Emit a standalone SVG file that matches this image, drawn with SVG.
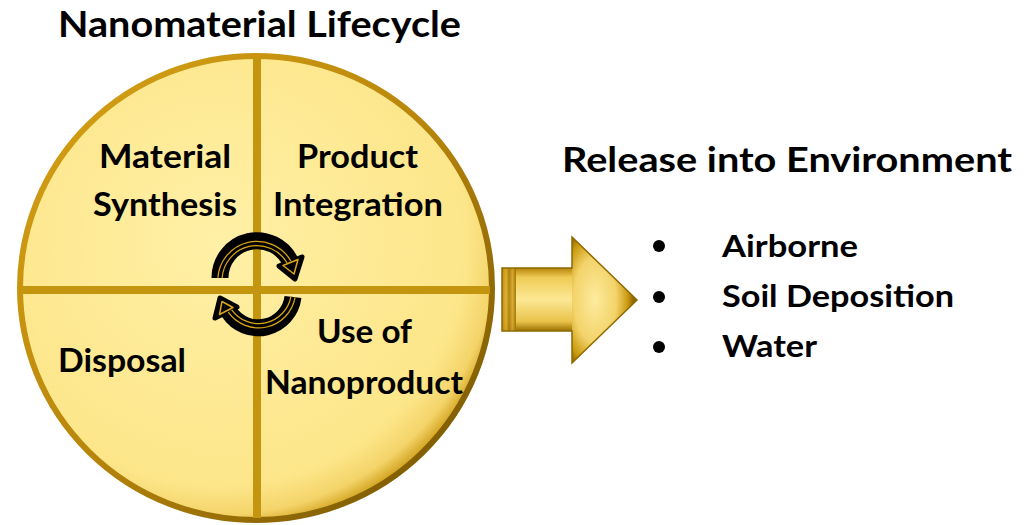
<svg xmlns="http://www.w3.org/2000/svg" width="1025" height="525" viewBox="0 0 1025 525">
<defs>
<style>
text{font-family:Lato,"Open Sans","Liberation Sans",sans-serif;font-weight:bold;fill:#000}
.lbl{font-size:32px}
.item{font-size:30px}
.div{stroke:#C4950E;stroke-width:8}
.band{fill:none;stroke:#000;stroke-width:17}
.band2{fill:none;stroke:#D9A514;stroke-width:5.5}
.band3{fill:none;stroke:#000;stroke-width:3}
.head{fill:#000;stroke:#000;stroke-width:5;stroke-linejoin:round}
.head2{fill:none;stroke:#D9A514;stroke-width:1.5;stroke-linejoin:round}
</style>
<radialGradient id="disc" cx="0.42" cy="0.4" r="0.62">
<stop offset="0" stop-color="#FFF0A6"/>
<stop offset="0.85" stop-color="#FDE68A"/>
<stop offset="0.95" stop-color="#F4D46A"/>
<stop offset="1" stop-color="#D6A928"/>
</radialGradient>
<linearGradient id="rim" x1="0" y1="0" x2="1" y2="1">
<stop offset="0" stop-color="#D9A316"/>
<stop offset="0.5" stop-color="#B8860B"/>
<stop offset="1" stop-color="#6E5000"/>
</linearGradient>
<linearGradient id="body" x1="0" y1="0" x2="0" y2="1">
<stop offset="0" stop-color="#B8860B"/>
<stop offset="0.15" stop-color="#EFCB55"/>
<stop offset="0.5" stop-color="#FCE894"/>
<stop offset="0.85" stop-color="#E9C24A"/>
<stop offset="1" stop-color="#9A7000"/>
</linearGradient>
<radialGradient id="headg" cx="0.35" cy="0.5" r="0.6">
<stop offset="0" stop-color="#FDEB9E"/>
<stop offset="0.55" stop-color="#F3D36A"/>
<stop offset="0.85" stop-color="#C9990F"/>
<stop offset="1" stop-color="#8A6400"/>
</radialGradient>
<linearGradient id="stripe" x1="0" y1="0" x2="1" y2="0">
<stop offset="0" stop-color="#B8860B"/>
<stop offset="0.3" stop-color="#D9AC2A"/>
<stop offset="0.5" stop-color="#A87A05"/>
<stop offset="0.75" stop-color="#D4A52A"/>
<stop offset="1" stop-color="#9A7000"/>
</linearGradient>
</defs>

<g id="title">
<text x="58" y="37" style="font-size:36px" textLength="403" lengthAdjust="spacingAndGlyphs">Nanomaterial Lifecycle</text>
</g>

<g id="lifecycle-circle">
<ellipse cx="256" cy="288" rx="236" ry="232" fill="url(#disc)" stroke="url(#rim)" stroke-width="6"/>
<line class="div" x1="257" y1="58" x2="257" y2="518"/>
<line class="div" x1="21" y1="290" x2="490" y2="290"/>
</g>

<g id="material-synthesis">
<text class="lbl" x="99" y="168" textLength="132" lengthAdjust="spacingAndGlyphs">Material</text>
<text class="lbl" x="93" y="216" textLength="144" lengthAdjust="spacingAndGlyphs">Synthesis</text>
</g>
<g id="product-integration">
<text class="lbl" x="297" y="168" textLength="121" lengthAdjust="spacingAndGlyphs">Product</text>
<text class="lbl" x="273" y="216" textLength="170" lengthAdjust="spacingAndGlyphs">Integration</text>
</g>
<g id="use-of-nanoproduct">
<text class="lbl" x="317" y="343" textLength="95" lengthAdjust="spacingAndGlyphs">Use of</text>
<text class="lbl" x="265" y="394" textLength="198" lengthAdjust="spacingAndGlyphs">Nanoproduct</text>
</g>
<g id="disposal">
<text class="lbl" x="58" y="372" textLength="128" lengthAdjust="spacingAndGlyphs">Disposal</text>
</g>

<g id="connectors">
<!-- top cycle arrow -->
<path class="band" d="M 220 278 A 37 37 0 0 1 290.5 262"/>
<polygon class="head" points="302,257 279,266 295,279"/>
<path class="band2" d="M 220 278 A 37 37 0 0 1 289 262"/>
<path class="band3" d="M 220 278 A 37 37 0 0 1 289 262"/>
<polygon class="head2" points="298,259.5 283,265.5 294,274"/>
<!-- bottom cycle arrow -->
<path class="band" d="M 293 297 A 35 35 0 0 1 229 312"/>
<polygon class="head" points="215,318 237,307 220,298"/>
<path class="band2" d="M 293 297 A 35 35 0 0 1 230 311"/>
<path class="band3" d="M 293 297 A 35 35 0 0 1 230 311"/>
<polygon class="head2" points="219.5,314.5 233,307.5 222,301.5"/>
</g>

<g id="release-arrow">
<rect x="502" y="268" width="74" height="63" fill="url(#body)"/>
<rect x="502" y="268" width="14" height="63" fill="url(#stripe)" opacity="0.9"/>
<polygon points="572,237 637,300 572,363" fill="url(#headg)"/>
<path d="M 502 268 H 572 V 237 L 637 300 L 572 363 V 331 H 502 Z" fill="none" stroke="#8F6A00" stroke-width="1.5" stroke-linejoin="miter"/>
</g>

<g id="release-into-environment">
<text x="562" y="172" style="font-size:34px" textLength="450" lengthAdjust="spacingAndGlyphs">Release into Environment</text>
<circle cx="659" cy="246" r="6"/>
<circle cx="659" cy="297" r="6"/>
<circle cx="659" cy="347" r="6"/>
<text class="item" x="722" y="257" textLength="136" lengthAdjust="spacingAndGlyphs">Airborne</text>
<text class="item" x="722" y="307" textLength="232" lengthAdjust="spacingAndGlyphs">Soil Deposition</text>
<text class="item" x="722" y="357" textLength="95" lengthAdjust="spacingAndGlyphs">Water</text>
</g>
</svg>
